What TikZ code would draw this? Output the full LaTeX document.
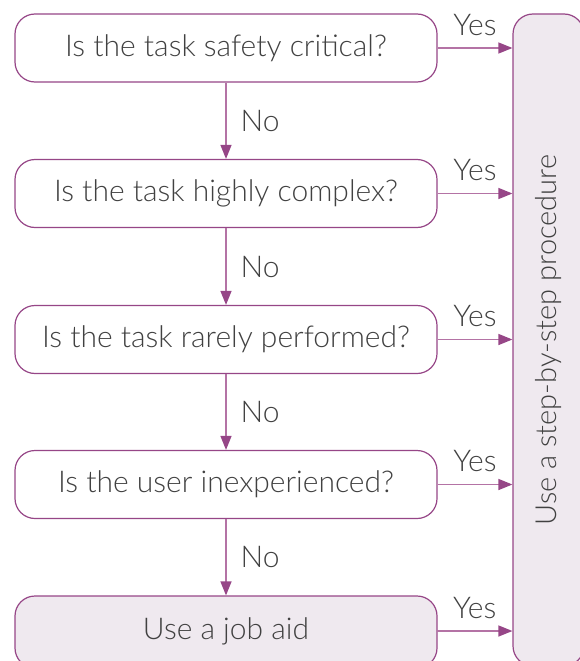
\documentclass[tikz,border=0pt]{standalone}
\usepackage{fontspec}
\setmainfont{Lato}[UprightFont={* Light}]
\usetikzlibrary{arrows.meta}
\definecolor{edgeC}{RGB}{150,70,135}
\definecolor{lineC}{RGB}{180,115,165}
\definecolor{fillC}{RGB}{239,233,239}
\definecolor{txtC}{RGB}{65,65,65}
\begin{document}
\begin{tikzpicture}[x=1pt,y=-1pt,
  qbox/.style={draw=edgeC, line width=1.2pt, rounded corners=20pt, fill=white,
    minimum width=422pt, minimum height=68pt, inner sep=0pt,
    text=txtC, font=\fontsize{30}{32}\selectfont},
  endbox/.style={qbox, fill=fillC},
  sidebox/.style={draw=edgeC, line width=1.2pt, rounded corners=20pt, fill=fillC,
    rotate=90, minimum width=652pt, minimum height=71pt, inner sep=0pt,
    text=txtC, font=\fontsize{29}{32}\selectfont},
  arr/.style={draw=lineC, line width=1.4pt,
    -{Triangle[length=14pt,width=11pt,color=edgeC,fill=edgeC]}},
  lbl/.style={text=txtC, font=\fontsize{30}{32}\selectfont, inner sep=0pt}
]
\useasboundingbox (0,0) rectangle (579,661);
\node[sidebox] (p) at (548.5,340) {Use a step-by-step procedure};
\node[qbox] (q1) at (226,48) {Is the task safety critical?};
\node[qbox] (q2) at (226,193.5) {Is the task highly complex?};
\node[qbox] (q3) at (226,339.5) {Is the task rarely performed?};
\node[qbox] (q4) at (226,484.5) {Is the user inexperienced?};
\node[endbox, minimum height=72pt] (q5) at (226,632) {};
\node[text=txtC, font=\fontsize{30}{32}\selectfont, inner sep=0pt] (q5t) at (226,631) {Use a job aid};
\foreach \a/\b in {q1/q2,q2/q3,q3/q4,q4/q5}{
  \draw[arr] (\a.south) -- node[lbl, anchor=west, xshift=14pt] {No} (\b.north);
}
\foreach \a in {q1,q2,q3,q4}{
  \draw[arr] (\a.east) -- node[lbl, anchor=south, yshift=12pt] {Yes} (\a.east -| p.north);
}
\coordinate (c5) at (437,631);
\draw[arr] (c5) -- node[lbl, anchor=south, yshift=12pt] {Yes} (c5 -| p.north);
\end{tikzpicture}
\end{document}
